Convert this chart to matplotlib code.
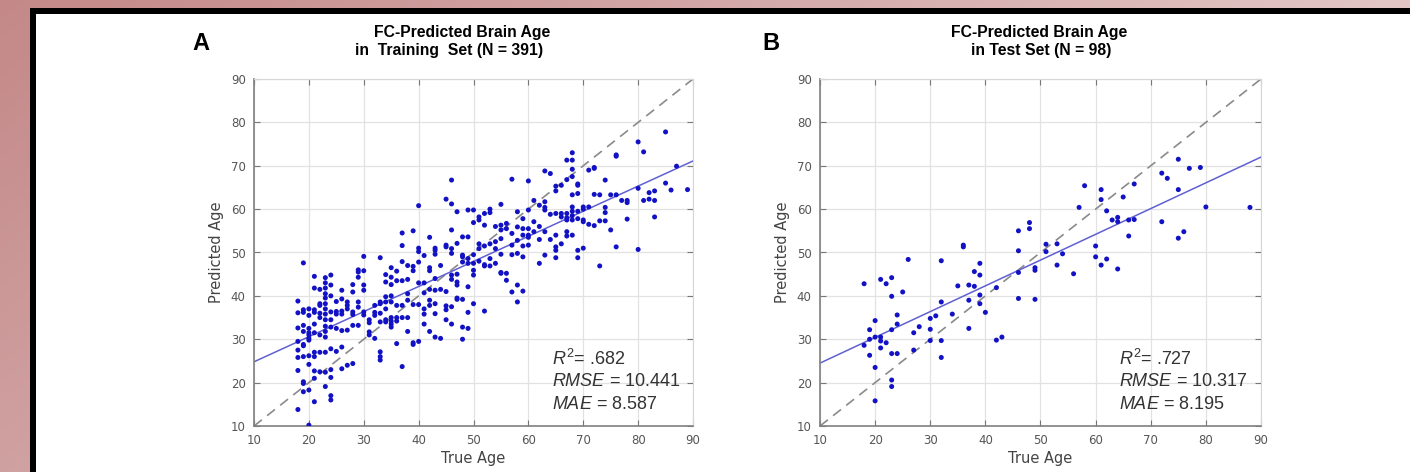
import numpy as np
import matplotlib
matplotlib.use("Agg")
import matplotlib.pyplot as plt
from matplotlib.patches import Rectangle

plt.rcParams['mathtext.fontset'] = 'custom'
plt.rcParams['mathtext.it'] = 'Liberation Sans:italic'
plt.rcParams['mathtext.rm'] = 'Liberation Sans'

# training set (N = 391): true age, predicted age
train_age = [
    18, 18, 18, 18, 18, 18, 18, 18,
    19, 19, 19, 19, 19, 19, 19, 19, 19, 19, 19,
    20, 20, 20, 20, 20, 20, 20, 20, 20, 20, 20,
    21, 21, 21, 21, 21, 21, 21, 21, 21, 21, 21,
    22, 22, 22, 22, 22, 22, 22, 22,
    23, 23, 23, 23, 23, 23, 23, 23, 23, 23, 23, 23, 23, 23, 23,
    24, 24, 24, 24, 24, 24, 24, 24, 24, 24, 24,
    25, 25, 25, 25, 25,
    26, 26, 26, 26, 26, 26, 26,
    27, 27, 27, 27, 27,
    28, 28, 28, 28, 28, 28,
    29, 29, 29, 29, 29, 29,
    30, 30, 30, 30, 30, 30,
    31, 31, 31, 31,
    32, 32, 32, 32,
    33, 33, 33, 33, 33, 33, 33, 33,
    34, 34, 34, 34, 34, 34, 34,
    35, 35, 35, 35, 35, 35, 35, 35, 35,
    36, 36, 36, 36, 36, 36,
    37, 37, 37, 37, 37, 37, 37,
    38, 38, 38, 38, 38, 38,
    39, 39, 39, 39, 39, 39,
    40, 40, 40, 40, 40, 40, 40,
    41, 41, 41, 41, 41, 41,
    42, 42, 42, 42, 42, 42, 42,
    43, 43, 43, 43, 43, 43, 43, 43,
    44, 44, 44,
    45, 45, 45, 45, 45, 45, 45,
    46, 46, 46, 46, 46, 46, 46, 46, 46,
    47, 47, 47, 47, 47, 47, 47,
    48, 48, 48, 48, 48, 48, 48,
    49, 49, 49, 49, 49, 49, 49,
    50, 50, 50, 50, 50, 50, 50,
    51, 51, 51, 51, 51,
    52, 52, 52, 52, 52, 52,
    53, 53, 53, 53, 53,
    54, 54, 54, 54,
    55, 55, 55, 55, 55, 55, 55,
    56, 56, 56, 56,
    57, 57, 57, 57, 57,
    58, 58, 58, 58, 58, 58,
    59, 59, 59, 59, 59, 59,
    60, 60, 60, 60, 60, 60,
    61, 61, 61,
    62, 62, 62, 62,
    63, 63, 63, 63, 63, 63,
    64, 64, 64,
    65, 65, 65, 65, 65, 65, 65,
    66, 66, 66, 66,
    67, 67, 67, 67, 67, 67, 67,
    68, 68, 68, 68, 68, 68, 68, 68, 68, 68,
    69, 69, 69, 69, 69, 69, 69,
    70, 70, 70, 70, 70,
    71, 71, 71,
    72, 72, 72, 72,
    73, 73, 73,
    74, 74, 74, 74,
    75, 75,
    76, 76, 76, 76,
    77,
    78, 78, 78,
    80, 80, 80,
    81, 81,
    82, 82,
    83, 83, 83,
    85, 85,
    86,
    87,
    89,
]
train_pred = [
    38.8, 36.1, 32.6, 29.5, 27.5, 25.8, 22.8, 13.8,
    47.6, 36.8, 36.2, 33.2, 31.8, 28.8, 28.5, 26.0, 20.2, 17.9, 19.8,
    37.0, 35.5, 32.5, 31.5, 31.0, 30.2, 26.2, 24.2, 18.3, 10.2, 29.8,
    44.5, 36.8, 36.2, 31.5, 26.0, 27.0, 22.7, 21.0, 15.6, 41.8, 33.5,
    41.5, 37.8, 35.0, 31.0, 27.0, 22.5, 38.2, 36.0,
    44.2, 43.0, 41.8, 40.5, 39.5, 38.2, 37.0, 35.8, 34.5, 33.0, 31.8, 30.5, 27.0, 22.4, 19.1,
    44.8, 42.5, 40.0, 36.3, 34.5, 32.8, 27.8, 23.0, 21.2, 17.0, 16.0,
    38.7, 36.4, 35.8, 32.5, 27.2,
    41.3, 39.3, 36.5, 35.8, 28.2, 23.2, 32.0,
    38.6, 37.8, 37.0, 32.1, 24.0,
    42.6, 40.9, 36.3, 33.2, 24.4, 35.7,
    46.0, 44.3, 38.6, 37.4, 33.2, 45.5,
    49.1, 45.8, 42.5, 41.3, 36.3, 35.6,
    34.5, 33.8, 31.7, 31.0,
    35.5, 30.2, 36.2, 37.8,
    48.8, 38.6, 36.0, 34.0, 27.1, 26.0, 25.2, 38.2,
    44.9, 43.2, 39.8, 38.6, 34.5, 34.0, 37.0,
    46.5, 44.3, 42.6, 40.0, 38.6, 35.0, 34.2, 32.8, 33.5,
    45.7, 37.8, 35.0, 34.2, 29.0, 43.5,
    54.5, 51.6, 47.9, 43.5, 37.8, 35.0, 23.7,
    47.0, 43.8, 39.0, 35.0, 31.8, 40.5,
    55.0, 46.8, 45.8, 38.0, 29.2, 28.8,
    60.8, 51.0, 50.2, 47.8, 43.0, 38.0, 29.5,
    49.3, 43.0, 37.0, 35.8, 33.5, 40.7,
    53.5, 46.5, 45.8, 39.0, 37.8, 31.8, 41.5,
    51.0, 50.5, 49.6, 41.3, 38.2, 35.9, 30.5, 44.0,
    47.0, 41.5, 30.2,
    62.3, 51.7, 51.3, 37.7, 36.8, 34.5, 41.0,
    66.7, 61.2, 55.2, 50.9, 49.8, 44.8, 43.8, 37.5, 33.5,
    59.4, 52.1, 43.2, 42.5, 39.2, 39.5, 45.0,
    53.6, 49.4, 39.2, 32.8, 30.0, 47.8, 49.0,
    59.8, 53.6, 48.6, 42.1, 36.2, 32.5, 47.5,
    59.8, 56.9, 47.5, 45.9, 44.8, 38.2, 49.5,
    58.2, 57.5, 50.9, 52.0, 48.0,
    59.0, 56.3, 51.5, 46.9, 36.5, 47.2,
    60.0, 59.2, 52.0, 46.9, 48.6,
    52.5, 50.9, 56.0, 47.5,
    61.1, 56.3, 55.2, 53.2, 49.6, 45.2, 45.4,
    45.2, 43.6, 56.7, 55.5,
    66.9, 54.4, 51.7, 40.9, 49.5,
    59.4, 55.9, 49.8, 42.5, 38.6, 52.8,
    57.8, 55.5, 54.0, 51.5, 49.0, 41.1,
    66.5, 59.8, 55.5, 54.0, 51.7, 53.5,
    57.1, 54.8, 62.0,
    60.9, 56.0, 53.0, 47.5,
    68.8, 61.7, 60.4, 54.8, 49.4, 59.8,
    68.2, 58.8, 53.0,
    65.3, 64.2, 59.0, 54.0, 51.3, 50.5, 48.8,
    65.5, 58.2, 59.0, 52.0,
    71.3, 66.8, 59.0, 58.0, 57.5, 54.8, 53.8,
    73.0, 71.3, 69.2, 67.5, 63.3, 60.5, 59.5, 58.5, 57.5, 54.0,
    65.8, 63.6, 65.5, 59.5, 57.8, 50.5, 48.8,
    60.5, 57.5, 57.1, 51.0, 60.0,
    69.0, 60.5, 56.5,
    69.6, 69.4, 63.4, 56.2,
    63.3, 57.3, 46.9,
    66.7, 60.4, 59.2, 57.3,
    63.3, 55.2,
    72.2, 72.5, 63.3, 51.3,
    62.0,
    62.0, 61.5, 57.7,
    64.8, 75.5, 50.7,
    73.2, 62.0,
    63.8, 62.3,
    64.2, 58.2, 62.0,
    77.8, 66.0,
    64.4,
    69.9,
    64.5,
]

# test set (N = 98)
test_age = [
    18, 21, 22, 23, 23, 25, 26, 32, 24, 20, 19, 24, 23, 20, 21, 21, 18, 21, 22, 19,
    23, 24, 20, 23, 23, 20, 27, 28, 27, 30, 30, 30, 31, 32, 32, 32, 34, 35, 36, 36,
    37, 37, 37, 38, 38, 39, 39, 39, 39, 40, 42, 42, 43, 46, 46, 46, 46, 48, 48, 49,
    49, 49, 51, 51, 19,
    53, 54, 53, 56, 57, 58, 61, 61, 62, 63, 64, 64, 65, 66, 67, 67, 66, 60, 60, 61,
    62, 64, 72, 72, 73, 75, 75, 75, 76, 77, 79, 80, 88,
]
test_pred = [
    42.8, 43.8, 42.8, 44.2, 39.9, 40.9, 48.4, 48.1, 35.6, 34.3, 32.2, 33.5, 32.2, 30.5, 30.5, 29.6, 28.6, 28.0, 29.2, 26.3,
    26.7, 26.7, 23.5, 20.6, 19.1, 15.8, 31.5, 32.9, 27.5, 34.8, 32.3, 29.7, 35.4, 38.6, 29.7, 25.8, 35.8, 42.3, 51.7, 51.3,
    42.5, 39.0, 32.5, 45.6, 42.2, 47.5, 44.8, 40.2, 38.2, 36.2, 41.9, 29.8, 30.5, 55.0, 50.4, 45.4, 39.4, 56.9, 55.5, 46.5,
    45.9, 39.2, 50.2, 51.9, 30.0,
    52.0, 49.7, 47.1, 45.1, 60.4, 65.4, 62.2, 64.5, 59.6, 57.5, 58.1, 57.1, 62.8, 57.5, 65.8, 57.6, 53.8, 51.5, 49.0, 47.1,
    48.5, 46.2, 57.1, 68.3, 67.1, 71.5, 64.5, 53.3, 54.8, 69.4, 69.6, 60.5, 60.4,
]

# regression line end points (at x = 10 and x = 90)
fit_x = [10, 90]
train_fit = [24.8, 71.1]
test_fit = [24.5, 72.0]
identity = [10, 90]
ticks = [10, 20, 30, 40, 50, 60, 70, 80, 90]

train_title = ["FC-Predicted Brain Age", "in  Training  Set (N = 391)"]
test_title = ["FC-Predicted Brain Age", "in Test Set (N = 98)"]
train_stats = ["$R^2$= .682", "$RMSE$ = 10.441", "$MAE$ = 8.587"]
test_stats = ["$R^2$= .727", "$RMSE$ = 10.317", "$MAE$ = 8.195"]

W, H = 1410, 472
fig = plt.figure(figsize=(W / 100, H / 100), dpi=100)

# pink background + black frame
bg = fig.add_axes([0, 0, 1, 1], zorder=-10)
gx = np.linspace(0, 1, W)[None, :]
gy = np.linspace(0, 1, H)[:, None]
t = np.clip(0.75 * gx + 0.3 * gy, 0, 1)
c0 = np.array([196, 136, 136]) / 255
c1 = np.array([236, 218, 218]) / 255
bg.imshow(c0 + (c1 - c0) * t[..., None], extent=[0, W, H, 0], aspect='auto')
bg.add_patch(Rectangle((30, 8), W, H, facecolor='black', edgecolor='none'))
bg.add_patch(Rectangle((35.5, 14), W, H, facecolor='white', edgecolor='none'))
bg.set_xlim(0, W)
bg.set_ylim(H, 0)
bg.axis('off')


def draw_panel(rect, age, pred, fit_y, stats):
    ax = fig.add_axes(rect)
    ax.set_xlim(10, 90)
    ax.set_ylim(10, 90)
    ax.set_xticks(ticks)
    ax.set_yticks(ticks)
    ax.grid(True, color='#e2e2e2', lw=0.9)
    ax.set_axisbelow(True)
    ax.plot(identity, identity, ls=(0, (6, 4)), color='#8a8a8a', lw=1.2, zorder=2)
    ax.plot(fit_x, fit_y, color='#6060d2', lw=1.1, zorder=2)
    ax.scatter(age, pred, s=13, color='#1212c4', edgecolors='none', zorder=3)

    ax.tick_params(direction='in', length=4, width=0.8, color='#777', labelsize=8.5,
                   labelcolor='#555', top=True, right=True, pad=6)
    for s in ['left', 'bottom']:
        ax.spines[s].set_color('#808080')
        ax.spines[s].set_linewidth(1.2)
    for s in ['top', 'right']:
        ax.spines[s].set_color('#d6d6d6')
        ax.spines[s].set_linewidth(0.8)

    ax.set_xlabel('True Age', fontsize=10.5, color='#444', labelpad=3)
    ax.set_ylabel('Predicted Age', fontsize=10.5, color='#444', labelpad=5)
    for txt, yy in zip(stats, [25.4, 20.2, 15.0]):
        ax.text(64.3, yy, txt, fontsize=13, family='Liberation Sans', color='#333',
                va='center', ha='left')
    return ax


def title_lines(lines, centers):
    for txt, cx, base in zip(lines, centers, [37, 55]):
        fig.text(cx / W, 1 - base / H, txt, fontsize=11.3, fontweight='bold',
                 family='Liberation Sans', ha='center', va='baseline')


draw_panel([254 / W, 1 - 426 / H, 439 / W, 347 / H], train_age, train_pred, train_fit, train_stats)
draw_panel([820 / W, 1 - 426 / H, 441 / W, 347 / H], test_age, test_pred, test_fit, test_stats)
title_lines(train_title, [462, 449])
title_lines(test_title, [1039, 1041])

fig.text(192 / W, 1 - 43 / H, 'A', fontsize=17, fontweight='bold',
         family='Liberation Sans', va='center', ha='left')
fig.text(762 / W, 1 - 43 / H, 'B', fontsize=17, fontweight='bold',
         family='Liberation Sans', va='center', ha='left')

fig.savefig('out.png', dpi=100)
